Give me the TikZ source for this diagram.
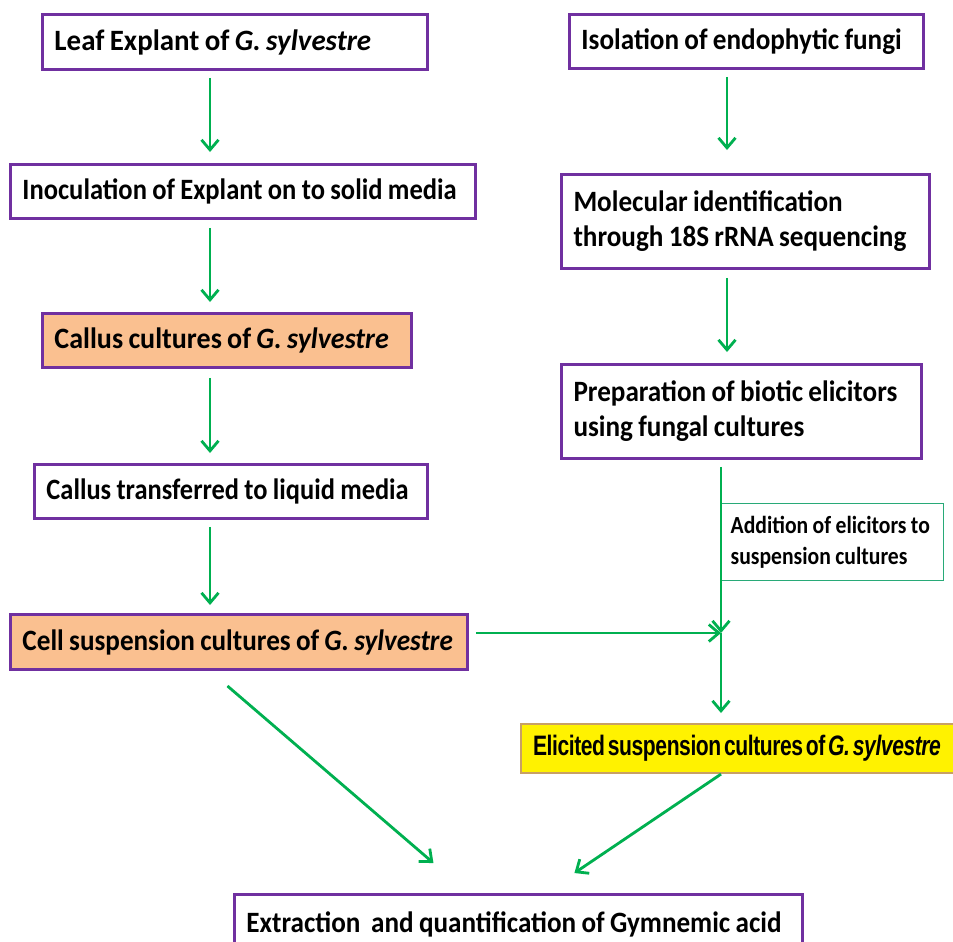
\documentclass[tikz,border=0pt]{standalone}
\usepackage{fontspec}
\setmainfont{Carlito}[FakeStretch=0.92]
\newfontfamily\elicfont{Liberation Sans}[FakeStretch=0.75, LetterSpace=-1.5]
\usetikzlibrary{arrows.meta}
\definecolor{boxpurple}{RGB}{112,48,160}
\definecolor{flowgreen}{RGB}{0,176,80}
\definecolor{peach}{RGB}{250,192,144}
\definecolor{labelgreen}{RGB}{40,170,120}
\definecolor{tan}{RGB}{200,160,100}
\newcommand{\tightwords}[1]{\spaceskip=#1em\relax}
\tikzset{
    stage/.style = {draw=boxpurple, line width=1.7pt, anchor=north west, align=left,
        inner xsep=0.24cm, font=\fontsize{16.8}{20}\selectfont\bfseries,
        execute at begin node=\tightwords{0.18}},
    squeeze/.style = {execute at begin node={\addfontfeature{FakeStretch=#1}\tightwords{0.18}}},
    flow/.style = {draw=flowgreen, line width=1.6pt,
        -{Straight Barb[length=0.2cm, width=0.34cm, line width=1.6pt]}},
}
\begin{document}
\begin{tikzpicture}[x=0.02cm, y=-0.02cm]
    \useasboundingbox (0,0) rectangle (953,941);
    % left column
    \node[stage, squeeze=0.98, text width=7.22cm, minimum height=1.10cm] (leaf) at (41,13) {Leaf Explant of \textit{G. sylvestre}};
    \node[stage, squeeze=0.9, text width=8.82cm, minimum height=1.08cm] (inoc) at (9,163) {Inoculation of Explant on to solid media};
    \node[stage, squeeze=0.95, fill=peach, text width=6.90cm, minimum height=1.08cm] (callus) at (41,312) {Callus cultures of \textit{G. sylvestre}};
    \node[stage, squeeze=0.895, text width=7.38cm, minimum height=1.08cm] (trans) at (33,463) {Callus transferred to liquid media};
    \node[stage, fill=peach, text width=8.66cm, minimum height=1.10cm] (cellsus) at (9,613) {Cell suspension cultures of \textit{G. sylvestre}};
    % right column
    \node[stage, text width=6.6cm, minimum height=1.08cm] (iso) at (568,13) {Isolation of endophytic fungi};
    \node[stage, text width=6.88cm, minimum height=1.88cm] (molid) at (560,173) {Molecular identification\\through 18S rRNA sequencing};
    \node[stage, text width=6.72cm, minimum height=1.88cm] (prep) at (560,363) {Preparation of biotic elicitors\\using fungal cultures};
    \node[draw=labelgreen, line width=0.8pt, anchor=north west, align=left, inner xsep=0.18cm,
        text width=4.08cm, minimum height=1.54cm, font=\fontsize{14}{17.6}\selectfont\bfseries,
        squeeze=0.88] (addn) at (721,503) {Addition of elicitors to\\suspension cultures};
    \node[draw=tan, fill=yellow, line width=1.2pt, anchor=north west, align=left, inner xsep=0.24cm,
        text width=8.6cm, minimum height=0.98cm, font=\elicfont\fontsize{16}{20}\selectfont\bfseries,
        execute at begin node=\tightwords{0.1}] (elic) at (520,723) {Elicited suspension cultures of \textit{G. sylvestre}};
    \node[stage, text width=10.88cm, minimum height=1.20cm] (extr) at (233,893) {Extraction\ \ and quantification of Gymnemic acid};
    % connectors
    \coordinate (lx) at (210,0);
    \coordinate (rx) at (727,0);
    \coordinate (junc) at (721,633);
    \draw[flow, shorten <=0.14cm, shorten >=0.22cm] (leaf.south -| lx) -- (inoc.north -| lx);
    \draw[flow, shorten <=0.16cm, shorten >=0.2cm] (inoc.south -| lx) -- (callus.north -| lx);
    \draw[flow, shorten <=0.18cm, shorten >=0.2cm] (callus.south -| lx) -- (trans.north -| lx);
    \draw[flow, shorten <=0.14cm, shorten >=0.16cm] (trans.south -| lx) -- (cellsus.north -| lx);
    \draw[flow, shorten <=0.14cm, shorten >=0.46cm] (iso.south -| rx) -- (molid.north -| rx);
    \draw[flow, shorten <=0.16cm, shorten >=0.22cm] (molid.south -| rx) -- (prep.north -| rx);
    \draw[flow, shorten <=0.14cm] (prep.south -| junc) -- (junc);
    \draw[flow, shorten <=0.14cm] (cellsus.east |- junc) -- (junc);
    \draw[flow, shorten >=0.2cm] (junc) -- (elic.north -| junc);
    \draw[flow] ([xshift=-0.23cm, yshift=-0.3cm]cellsus.south) -- ([xshift=-1.7cm, yshift=0.6cm]extr.north);
    \draw[flow] (elic.south -| junc) -- ([xshift=1.12cm, yshift=0.4cm]extr.north);
\end{tikzpicture}
\end{document}
